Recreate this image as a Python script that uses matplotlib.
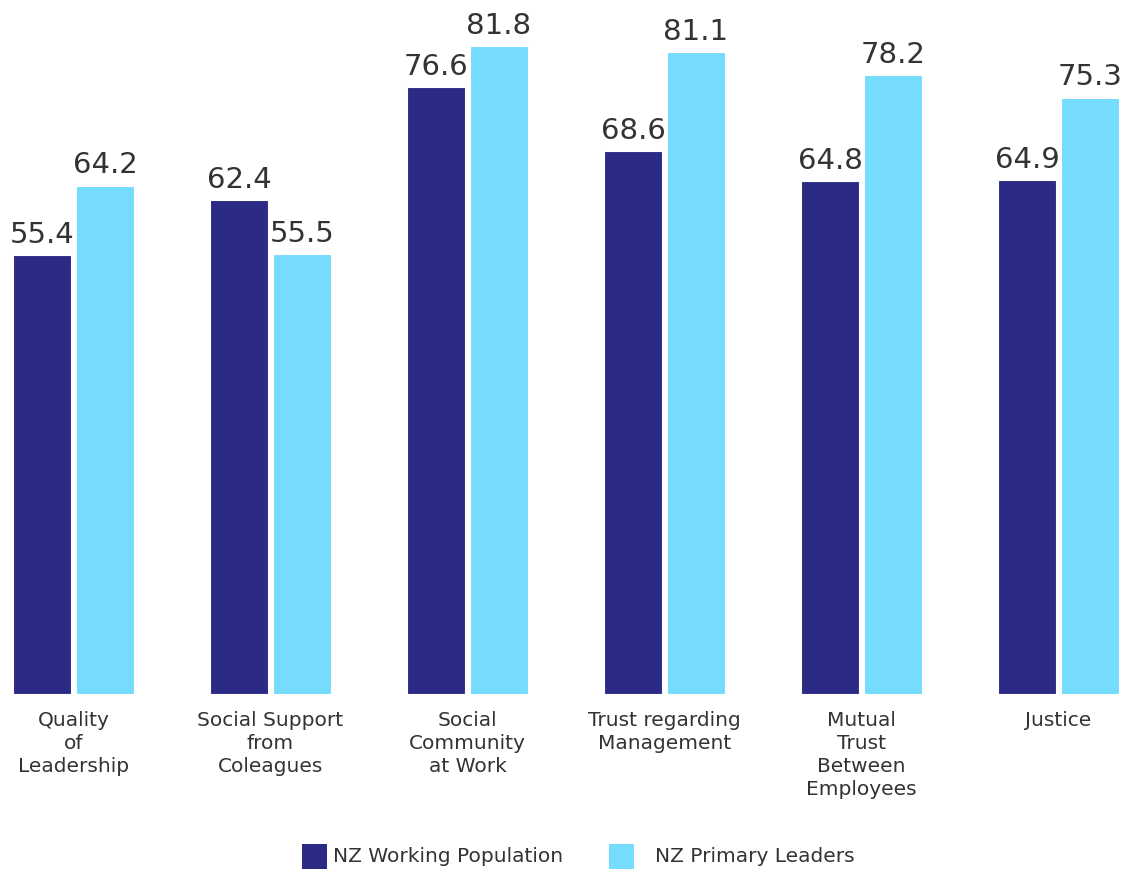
import numpy as np
import matplotlib.pyplot as plt
from matplotlib.patches import Rectangle

# --- data ---
categories = [
    "Quality\nof\nLeadership",
    "Social Support\nfrom\nColeagues",
    "Social\nCommunity\nat Work",
    "Trust regarding\nManagement",
    "Mutual\nTrust\nBetween\nEmployees",
    "Justice",
]
working_population = [55.4, 62.4, 76.6, 68.6, 64.8, 64.9]
primary_leaders = [64.2, 55.5, 81.8, 81.1, 78.2, 75.3]
series_names = ["NZ Working Population", "NZ Primary Leaders"]

DARK = "#2B2A85"
LIGHT = "#75DCFE"
TEXT = "#333333"

fig = plt.figure(figsize=(11.25, 8.7), dpi=100)
ax = fig.add_axes([0, 175 / 870, 1, 695 / 870])

x = np.arange(len(categories))
w = 0.294
off = 0.16

b1 = ax.bar(x - off, working_population, w, color=DARK, edgecolor="white", linewidth=0.8)
b2 = ax.bar(x + off, primary_leaders, w, color=LIGHT, edgecolor="white", linewidth=0.8)

for bars, vals in ((b1, working_population), (b2, primary_leaders)):
    for rect, v in zip(bars, vals):
        ax.text(rect.get_x() + rect.get_width() / 2, v + 0.9, f"{v:.1f}",
                ha="center", va="bottom", fontsize=21, color=TEXT,
                family="DejaVu Sans")

ax.set_xlim(-73.5 / 197, (1125 - 73.5) / 197)
ax.set_ylim(0, 695 / 7.92)
ax.axis("off")

# category labels below the baseline
for xi, lab in zip(x, categories):
    fx = (73.5 + xi * 197) / 1125
    fig.text(fx, 1 - 711 / 870, lab, ha="center", va="top", fontsize=14.5,
             color=TEXT, family="DejaVu Sans", linespacing=1.27)

# legend row
leg_y = 1 - 857 / 870
sq = 25
for left, txt_x, color, name in ((302, 333, DARK, series_names[0]),
                                  (609, 655, LIGHT, series_names[1])):
    fig.patches.append(Rectangle((left / 1125, leg_y - sq / 2 / 870), sq / 1125, sq / 870,
                                 transform=fig.transFigure, facecolor=color,
                                 edgecolor="none"))
    fig.text(txt_x / 1125, leg_y, name, ha="left", va="center", fontsize=14.5,
             color=TEXT, family="DejaVu Sans")

fig.savefig("out.png", dpi=100)
